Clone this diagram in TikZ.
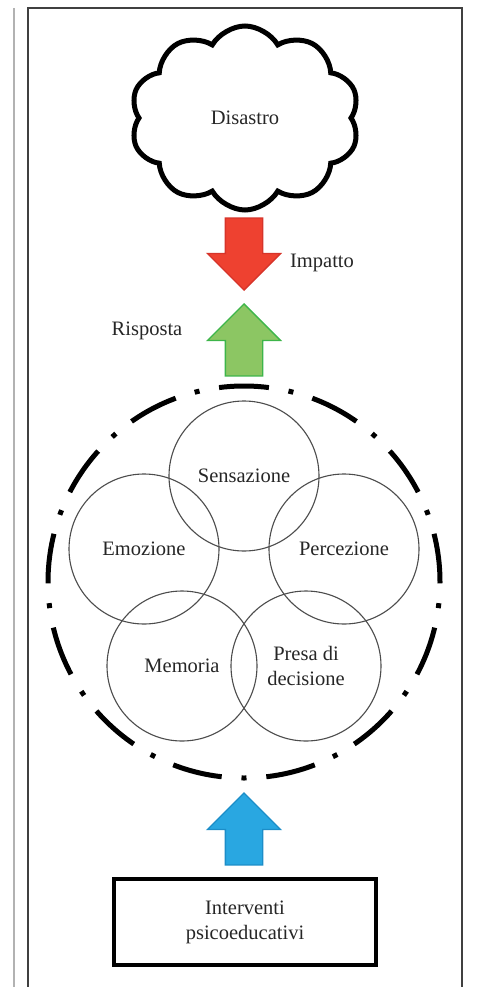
\documentclass[tikz,border=0pt]{standalone}
\usepackage{fontspec}
\setmainfont{Liberation Serif}
\usepackage{xcolor}
\usepackage{tikz}
\usetikzlibrary{shapes.symbols,shapes.arrows,positioning}
\definecolor{impact}{HTML}{EE4130}
\definecolor{impactline}{HTML}{D6342A}
\definecolor{reply}{HTML}{8CC663}
\definecolor{replyline}{HTML}{3DB54A}
\definecolor{support}{HTML}{29A7E1}
\definecolor{supportline}{HTML}{1C8DC8}
\tikzset{
  lbl/.style={font=\fontsize{20.5}{25}\selectfont,text=black!85,align=center},
  cloudbox/.style={lbl,cloud,cloud puffs=10,cloud puff arc=120,draw=black,
                   line width=5pt,minimum width=229pt,minimum height=184pt,inner sep=0pt},
  blockarrow/.style={single arrow,single arrow head extend=18pt,minimum height=72pt,
                     inner xsep=0pt,inner ysep=18pt,line width=1.3pt,anchor=tip},
  faculty/.style={lbl,circle,draw=black!70,line width=1.1pt,minimum size=150pt,inner sep=0pt},
  mindring/.style={circle,draw=black,line width=5pt,minimum size=392pt,inner sep=0pt,
                   dash pattern=on 50pt off 19.87pt on 5pt off 19.87pt,dash phase=1.3pt},
  interbox/.style={lbl,draw=black,line width=4.5pt,minimum width=262pt,minimum height=86pt},
}

\begin{document}
\begin{tikzpicture}[x=1pt,y=-1pt]
\useasboundingbox (0,0) rectangle (478,987);

% --- page rules ---
\draw[gray!60,line width=2pt] (14,8) -- (14,987);
\draw[black!75,line width=1.2pt] (28,987) -- (28,8) -- (462,8) -- (462,987);

% --- disaster and the two block arrows ---
\node[cloudbox] (disastro) at (245,118) {Disastro};
\node[blockarrow,rotate=-90,fill=impact,draw=impactline] (impatto) at (244,291) {};
\node[lbl] (impattolbl) at (322,263) {Impatto};
\node[blockarrow,rotate=90,fill=reply,draw=replyline] (risposta) at (244,303) {};
\node[lbl] (rispostalbl) at (147,331) {Risposta};

% --- the mind: five overlapping faculties ---
\node[mindring] (mente) at (244,582) {};
\node[faculty] (sens) at (244,476)   {Sensazione};
\node[faculty] (emoz) at (144,549)   {Emozione};
\node[faculty] (perc) at (344,549)   {Percezione};
\node[faculty] (mem)  at (182,666)   {Memoria};
\node[faculty] (dec)  at (306,666)   {Presa di\\decisione};

% --- psychoeducation feeding in from below ---
\node[blockarrow,rotate=90,fill=support,draw=supportline] (supporto) at (244,792) {};
\node[interbox] (interventi) at (245,922) {Interventi\\psicoeducativi};

\end{tikzpicture}
\end{document}
